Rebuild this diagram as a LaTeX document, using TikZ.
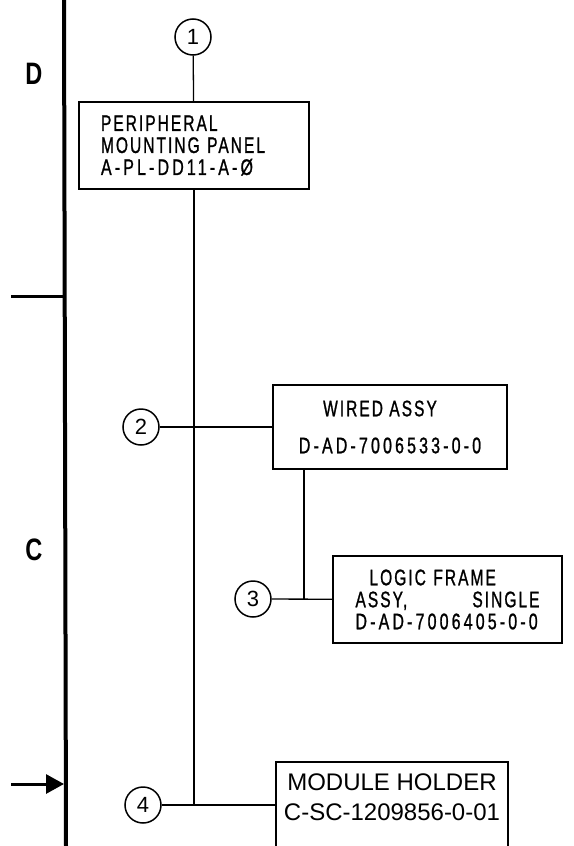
\documentclass[tikz,border=0pt]{standalone}
\usepackage{fontspec}
\setmainfont{Liberation Sans}
\newfontfamily\platefont[FakeStretch=0.69,LetterSpace=9,FakeBold=1]{Liberation Sans}
\newfontfamily\partnofont[FakeStretch=0.71,LetterSpace=14,FakeBold=1]{Liberation Sans}
\newfontfamily\zonefont[FakeStretch=0.76]{Liberation Sans}
\usetikzlibrary{arrows.meta,positioning}

\begin{document}
\begin{tikzpicture}[x=1pt,y=-1pt,
    partbox/.style={rectangle,draw,line width=1.6pt,
                    font=\platefont\fontsize{22.5}{22}\selectfont,
                    inner sep=0pt},
    holdbox/.style={rectangle,draw,line width=1.6pt,inner sep=0pt},
    holdlbl/.style={font=\fontsize{24}{30}\selectfont,align=center},
    callout/.style={circle,draw,line width=1.5pt,minimum size=36pt,
                    inner sep=0pt,font=\fontsize{22}{22}\selectfont},
    link/.style={line width=1.3pt},
    zonelbl/.style={font=\zonefont\bfseries\fontsize{31}{31}\selectfont},
    border/.style={line width=4pt}
  ]
  \useasboundingbox (0,0) rectangle (573,846);
  % Sheet border and zone marks
  \draw[border] (64,0) -- (66,846);
  \draw[line width=3pt] (11,296) -- (66,296);
  \draw[line width=3pt,-{Triangle[length=18pt,width=19pt]}] (11,784) -- (64,784);
  \node[zonelbl] (zoneD) at (34,74) {D};
  \node[zonelbl] (zoneC) at (34,550) {C};
  % Item 1
  \node[callout] (c1) at (193,37) {1};
  \node[partbox,minimum width=230pt,minimum height=87pt,
        align=left,text width=186pt] (box1) at (194,145.5)
        {PERIPHERAL\\MOUNTING PANEL\\{\partnofont A-PL-DD11-A-Ø}};
  \draw[link] (c1) -- (box1);
  % Item 2
  \node[partbox,minimum width=234pt,minimum height=84pt,align=center]
        (box2) at (390,427)
        {WIRED ASSY\hspace*{20pt}\\[15pt]{\partnofont D-AD-7006533-0-0}};
  \node[callout] (c2) at (141,427) {2};
  \draw[link] (c2) -- (box2);
  % Item 3
  \node[partbox,minimum width=229pt,minimum height=87pt,
        align=left,text width=184pt] (box3) at (447.5,599.5)
        {\hspace*{14pt}LOGIC FRAME\\ASSY,\hfill SINGLE\\{\partnofont D-AD-7006405-0-0}};
  \node[callout] (c3) at (253,599) {3};
  \coordinate (k3) at (304,599);
  \draw[link] (c3) -- (box3);
  \draw[link] (box2.south -| k3) -- (k3);
  % Item 4
  \node[holdbox,minimum width=232pt,minimum height=86pt] (box4) at (392,805) {};
  \node[holdlbl] (box4txt) at (392,797) {MODULE HOLDER\\C-SC-1209856-0-01};
  \node[callout] (c4) at (143,805) {4};
  \draw[link] (c4) -- (box4);
  \draw[link] (box1) -- (box1.south |- c4);
\end{tikzpicture}
\end{document}
